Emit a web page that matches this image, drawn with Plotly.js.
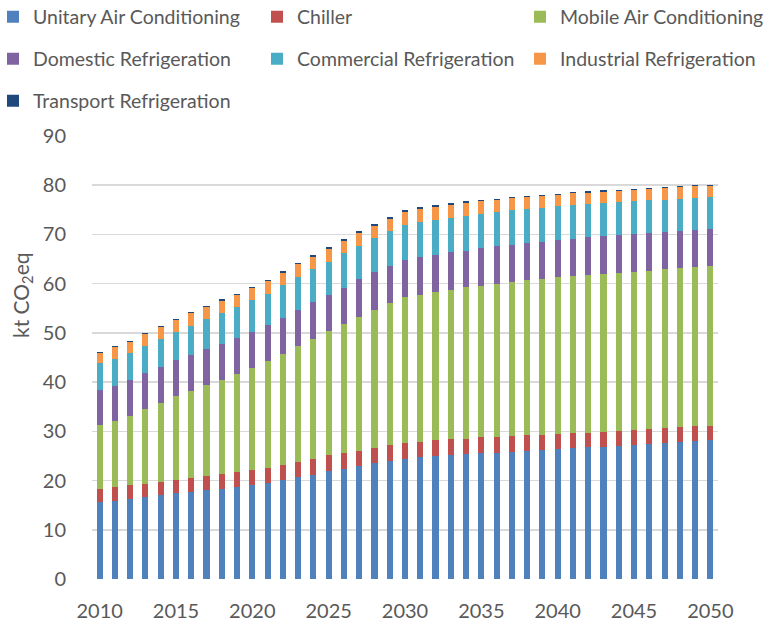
<!DOCTYPE html>
<html>
<head>
<meta charset="utf-8">
<script src="https://cdn.plot.ly/plotly-3.0.1.min.js"></script>
<style>html,body{margin:0;padding:0;background:#fff;}#chart{width:774px;height:622px;}</style>
</head>
<body>
<div id="chart"></div>
<script>
var years = [2010,2011,2012,2013,2014,2015,2016,2017,2018,2019,
             2020,2021,2022,2023,2024,2025,2026,2027,2028,2029,
             2030,2031,2032,2033,2034,2035,2036,2037,2038,2039,
             2040,2041,2042,2043,2044,2045,2046,2047,2048,2049,2050];

var seriesNames = ["Unitary Air Conditioning","Chiller","Mobile Air Conditioning",
                   "Domestic Refrigeration","Commercial Refrigeration","Industrial Refrigeration",
                   "Transport Refrigeration"];

var unitary = [15.6,15.85,16.2,16.6,17.0,17.4,17.7,18.0,18.35,18.7,
               19.0,19.5,20.1,20.7,21.2,21.9,22.4,22.9,23.5,24.0,
               24.4,24.7,24.9,25.1,25.3,25.5,25.7,25.9,26.0,26.2,
               26.4,26.6,26.8,26.9,27.1,27.3,27.5,27.7,27.9,28.1,28.3];
var chiller = [2.75,2.75,2.8,2.8,2.8,2.8,2.9,3.0,2.95,3.0,
               3.1,3.1,3.1,3.1,3.2,3.2,3.3,3.2,3.2,3.2,
               3.3,3.2,3.3,3.3,3.2,3.3,3.2,3.1,3.2,3.1,
               3.1,3.1,2.95,3.0,3.0,3.0,3.0,3.0,3.0,3.0,2.85];
var mobile = [12.95,13.5,14.2,15.1,16.0,16.9,17.6,18.4,19.1,20.0,
              20.8,21.7,22.5,23.5,24.4,25.2,26.1,27.1,27.9,28.8,
              29.5,29.8,30.1,30.3,30.8,30.75,31.1,31.4,31.5,31.7,
              31.8,31.9,32.05,32.1,32.1,32.1,32.1,32.2,32.2,32.2,32.35];
var domestic = [7.0,7.1,7.2,7.3,7.2,7.3,7.3,7.3,7.4,7.3,
                7.3,7.3,7.4,7.4,7.4,7.5,7.4,7.7,7.7,7.6,
                7.6,7.8,7.6,7.7,7.4,7.65,7.6,7.5,7.5,7.5,
                7.5,7.5,7.6,7.6,7.6,7.6,7.7,7.6,7.6,7.6,7.7];
var commercial = [5.5,5.5,5.5,5.6,5.8,5.8,6.0,6.1,6.2,6.3,
                  6.4,6.4,6.6,6.6,6.7,6.7,7.0,6.85,6.9,7.1,
                  7.1,7.1,7.1,7.0,7.1,7.05,6.9,7.0,6.9,6.8,
                  6.9,6.9,6.75,6.7,6.8,6.7,6.6,6.6,6.6,6.6,6.4];
var industrial = [2.2,2.4,2.3,2.3,2.4,2.4,2.5,2.5,2.5,2.4,
                  2.5,2.6,2.5,2.6,2.6,2.5,2.55,2.55,2.6,2.5,
                  2.65,2.5,2.6,2.6,2.6,2.55,2.6,2.5,2.6,2.5,
                  2.4,2.4,2.35,2.4,2.3,2.3,2.3,2.25,2.4,2.25,2.3];
var transport = [0.2,0.2,0.25,0.3,0.2,0.3,0.3,0.2,0.3,0.3,
                 0.25,0.2,0.3,0.3,0.3,0.35,0.3,0.3,0.35,0.4,
                 0.35,0.4,0.3,0.3,0.3,0.2,0.2,0.2,0.2,0.3,
                 0.2,0.3,0.25,0.3,0.2,0.2,0.3,0.35,0.2,0.25,0.2];

var xTicks = [2010,2015,2020,2025,2030,2035,2040,2045,2050];
var yTicks = [0,10,20,30,40,50,60,70,80,90];
var yTitle = "kt CO<sub>2</sub>eq";

var allValues = [unitary, chiller, mobile, domestic, commercial, industrial, transport];
var colors = ["#4F81BD","#C0504D","#9BBB59","#8064A2","#4BACC6","#F79646","#1F497D"];

var FONT = "Lato, 'Open Sans', sans-serif";
var TXT = "#595959";

var W = 774, H = 622;
var mL = 92, mR = 56, mT = 136, mB = 43;
var pw = W - mL - mR, ph = H - mT - mB;
var colText = [31, 295, 558];
var rowY = [17, 59, 101];

var traces = allValues.map(function(vals, i) {
  var legId = i === 0 ? "legend" : "legend" + (i + 1);
  return {
    type: "bar",
    name: seriesNames[i],
    x: years,
    y: vals,
    marker: {color: colors[i], line: {width: 0}},
    legend: legId,
    hoverinfo: "x+y+name"
  };
});

var layout = {
  width: W, height: H,
  barmode: "stack",
  bargap: 0.6,
  paper_bgcolor: "#ffffff",
  plot_bgcolor: "#ffffff",
  font: {family: FONT, size: 19, color: TXT},
  margin: {l: mL, r: mR, t: mT, b: mB, autoexpand: false},
  xaxis: {
    range: [2009.5, 2050.5],
    tickvals: xTicks,
    showgrid: false,
    zeroline: false,
    showline: false,
    ticks: "outside", ticklen: 14, tickcolor: "rgba(0,0,0,0)",
    tickfont: {family: FONT, size: 20, color: TXT},
    fixedrange: true
  },
  yaxis: {
    range: [0, 90],
    tickvals: yTicks,
    showgrid: true,
    gridcolor: "#D9D9D9",
    gridwidth: 1.5,
    zeroline: false,
    showline: false,
    ticks: "outside", ticklen: 21, tickcolor: "rgba(0,0,0,0)",
    tickfont: {family: FONT, size: 20, color: TXT},
    fixedrange: true
  },
  annotations: [{
    text: yTitle,
    xref: "paper", yref: "paper",
    x: (22 - mL) / pw, y: (H - mB - 295) / ph,
    xanchor: "center", yanchor: "middle",
    textangle: -90,
    showarrow: false,
    font: {family: FONT, size: 21, color: TXT}
  }],
  showlegend: true
};

for (var i = 0; i < 7; i++) {
  var legId = i === 0 ? "legend" : "legend" + (i + 1);
  var col = i % 3, row = Math.floor(i / 3);
  var x0 = colText[col] - 38;
  layout[legId] = {
    orientation: "h",
    x: (x0 - mL) / pw,
    xanchor: "left",
    y: (H - mB - rowY[row]) / ph,
    yanchor: "middle",
    bgcolor: "rgba(0,0,0,0)",
    borderwidth: 0,
    traceorder: "normal",
    font: {family: FONT, size: 19.5, color: TXT}
  };
}

Plotly.newPlot("chart", traces, layout, {displayModeBar: false, staticPlot: true});
</script>
</body>
</html>
